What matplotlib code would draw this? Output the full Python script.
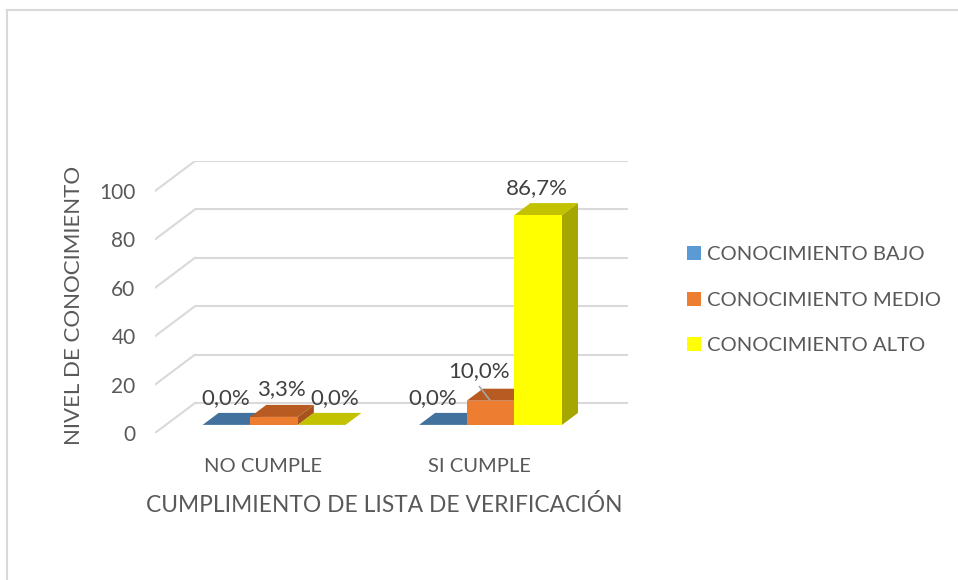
import numpy as np
import matplotlib
matplotlib.use("Agg")
import matplotlib.pyplot as plt
from matplotlib.patches import Polygon, Rectangle
from matplotlib.lines import Line2D

categories = ["NO CUMPLE", "SI CUMPLE"]
series = ["CONOCIMIENTO BAJO", "CONOCIMIENTO MEDIO", "CONOCIMIENTO ALTO"]
bajo = [0.0, 0.0]
medio = [3.3, 10.0]
alto = [0.0, 86.7]
values = [bajo, medio, alto]

# face colours per series: front, top, side
FRONT = ["#5B9BD5", "#ED7D31", "#FFFF00"]
TOP = ["#41719C", "#B85B22", "#C2C200"]
SIDE = ["#3A6690", "#A8521E", "#A6A600"]
GRID = "#D9D9D9"
TXT = "#595959"

plt.rcParams["font.family"] = "Lato"

W, H = 958, 580
fig = plt.figure(figsize=(W / 100, H / 100), dpi=100)

# axes spans the front plane (0..2 categories, 0..100) plus the depth shift
px_cat, px_unit = 216.5, 2.42
DX, DY = 40 / px_cat, 30 / px_unit          # full depth of the 3D box in data units
ax = fig.add_axes([155 / W, 1 - 433 / H, 473 / W, 272 / H])
ax.set_xlim(0, 2 + DX)
ax.set_ylim(0, 100 + DY)
for s in ax.spines.values():
    s.set_visible(False)

# back wall gridlines and side wall diagonals
for v in range(0, 101, 20):
    ax.plot([DX, 2 + DX], [v + DY, v + DY], color=GRID, lw=1.5, zorder=0, solid_capstyle="butt")
    ax.plot([0, DX], [v, v + DY], color=GRID, lw=1.5, zorder=0)

bw = 0.22
f0, f1 = 0.27, 0.67
for ci in range(len(categories)):
    c = ci + 0.5
    for si in range(len(series)):
        v = values[si][ci]
        x0 = c - 1.5 * bw + si * bw + f0 * DX
        y0 = f0 * DY
        ddx, ddy = (f1 - f0) * DX, (f1 - f0) * DY
        side = [(x0 + bw, y0), (x0 + bw + ddx, y0 + ddy), (x0 + bw + ddx, y0 + ddy + v), (x0 + bw, y0 + v)]
        top = [(x0, y0 + v), (x0 + bw, y0 + v), (x0 + bw + ddx, y0 + ddy + v), (x0 + ddx, y0 + ddy + v)]
        if v > 0:
            ax.add_patch(Polygon(side, closed=True, fc=SIDE[si], ec="none", zorder=2))
        ax.add_patch(Polygon(top, closed=True, fc=TOP[si], ec="none", zorder=2))
        if v > 0:
            ax.add_patch(Rectangle((x0, y0), bw, v, fc=FRONT[si], ec="none", zorder=2))

# data labels (nudges in pixels, Excel moved some to avoid overlap)
nudges = {(0, 0): (-1, 0), (0, 1): (7, 1), (0, 2): (13, 0),
          (1, 0): (-10, 0), (1, 1): (-12, 3), (1, 2): (-1, 0)}
for ci in range(len(categories)):
    c = ci + 0.5
    for si in range(len(series)):
        v = values[si][ci]
        xc = c - bw + si * bw + f0 * DX
        yt = v + f1 * DY
        nx, ny = nudges[(ci, si)]
        lx = xc + nx / px_cat
        ly = yt + 6.2 + ny / px_unit
        ax.text(lx, ly, f"{v:.1f}%".replace(".", ","), ha="center", va="center",
                fontsize=16, color="#404040", zorder=3)
        if (ci, si) == (1, 1):
            ax.plot([lx + 1 / px_cat, lx + 11 / px_cat], [ly - 16 / px_unit, ly - 29 / px_unit],
                    color="#A6A6A6", lw=1.2, zorder=3)

ax.set_yticks(range(0, 101, 20))
ax.set_yticklabels([str(t) for t in range(0, 101, 20)], fontsize=15, color=TXT)
ax.set_xticks([0.5, 1.5])
ax.set_xticklabels(categories, fontsize=14.5, color=TXT)
ax.tick_params(length=0)
ax.tick_params(axis="y", pad=14)
ax.tick_params(axis="x", pad=18)
ax.set_xlabel("CUMPLIMIENTO DE LISTA DE VERIFICACIÓN", fontsize=16.4, color=TXT)
ax.xaxis.set_label_coords((384 - 155) / 473, -(494 - 433) / 272)
ax.set_ylabel("NIVEL DE CONOCIMIENTO", fontsize=16, color=TXT)
ax.yaxis.set_label_coords(-(155 - 84) / 473, (433 - 305) / 272)

handles = [Rectangle((0, 0), 1, 1, fc=c, ec="none") for c in FRONT]
fig.legend(handles, series, loc="upper left", bbox_to_anchor=(679 / W, 1 - 238 / H),
           frameon=False, fontsize=14.6, labelcolor=TXT, handlelength=0.7, handleheight=0.7,
           handletextpad=0.3, labelspacing=1.4, borderaxespad=0)

# chart area border
fig.add_artist(Line2D([7 / W, 1], [1 - 10 / H] * 2, transform=fig.transFigure, color=GRID, lw=1.5))
fig.add_artist(Line2D([7 / W] * 2, [0, 1 - 10 / H], transform=fig.transFigure, color=GRID, lw=1.5))

fig.savefig("out.png", dpi=100)
